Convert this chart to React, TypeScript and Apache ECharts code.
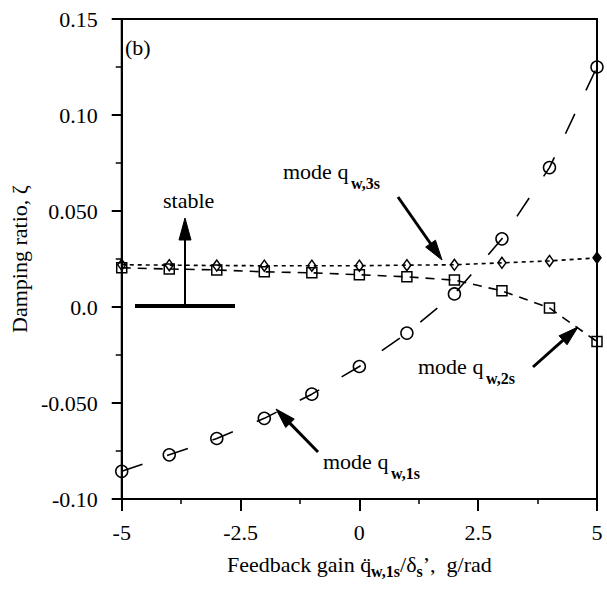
import React, { useEffect, useRef } from "react";
import * as echarts from "echarts";

const xValues = [-5, -4, -3, -2, -1, 0, 1, 2, 3, 4, 5];
const mode1s = [-0.0856, -0.077, -0.0685, -0.058, -0.0454, -0.031, -0.0136, 0.0068, 0.0355, 0.0726, 0.125];
const mode2s = [0.0204, 0.0198, 0.0193, 0.0183, 0.0178, 0.0168, 0.0157, 0.014, 0.0084, -0.0005, -0.018];
const mode3s = [0.022, 0.0218, 0.0216, 0.0215, 0.0215, 0.0215, 0.0218, 0.022, 0.023, 0.024, 0.0256];
const xTickLabels = ["-5", "-2.5", "0", "2.5", "5"];
const yTickLabels = ["-0.10", "-0.050", "0.0", "0.050", "0.10", "0.15"];

const FONT = "'Liberation Serif', 'DejaVu Serif', serif";

function arrow(x1: number, y1: number, tx: number, ty: number, head = 20, half = 6, w = 3) {
  const dx = tx - x1, dy = ty - y1;
  const len = Math.sqrt(dx * dx + dy * dy);
  const ux = dx / len, uy = dy / len;
  const bx = tx - head * ux, by = ty - head * uy;
  const px = -uy * half, py = ux * half;
  return [
    { type: "line", shape: { x1, y1, x2: bx + ux * 2, y2: by + uy * 2 }, style: { stroke: "#000", lineWidth: w } },
    {
      type: "polygon",
      shape: { points: [[tx, ty], [bx + px, by + py], [bx - px, by - py]] },
      style: { fill: "#000", stroke: "#000", lineWidth: 1 },
    },
  ];
}

function label(x: number, y: number, main: string, sub: string, subDx: number) {
  return [
    { type: "text", x, y, style: { text: main, font: `22px ${FONT}`, fill: "#000", verticalAlign: "middle", align: "left" } },
    { type: "text", x: x + subDx, y: y + 12, style: { text: sub, font: `bold 16px ${FONT}`, fill: "#000", verticalAlign: "middle", align: "left" } },
  ];
}

export default function App() {
  const ref = useRef<HTMLDivElement>(null);
  useEffect(() => {
    if (!ref.current) return;
    const chart = echarts.init(ref.current, undefined, { renderer: "svg" });
    const pts = (arr: number[]) => xValues.map((x, i) => [x, arr[i]]);
    const m3 = pts(mode3s).map((p, i) =>
      i === mode3s.length - 1 ? { value: p, itemStyle: { color: "#000" } } : p
    );
    const axisText = { fontFamily: FONT, fontSize: 22, color: "#000" };
    chart.setOption({
      animation: false,
      backgroundColor: "#fff",
      grid: { left: 113, right: 10, top: 19, bottom: 94, show: true, borderColor: "#000", borderWidth: 2, backgroundColor: "transparent" },
      xAxis: {
        type: "value",
        min: -5,
        max: 5,
        interval: 2.5,
        axisLine: { onZero: false, lineStyle: { color: "#000", width: 2 } },
        axisTick: { length: 12, lineStyle: { color: "#000", width: 2 } },
        minorTick: { show: true, splitNumber: 2, length: 5, lineStyle: { color: "#000", width: 1.5 } },
        splitLine: { show: false },
        axisLabel: {
          ...axisText,
          margin: 22,
          formatter: (v: number) => xTickLabels[Math.round((v + 5) / 2.5)] ?? "",
        },
        name: "{a|Feedback gain q\u0308}{s|w,1s}{a|/\u03b4}{s|s}{a|\u2019,  g/rad}",
        nameLocation: "middle",
        nameGap: 52,
        nameTextStyle: {
          rich: {
            a: { fontFamily: FONT, fontSize: 22, color: "#000", verticalAlign: "top", lineHeight: 26 },
            s: { fontFamily: FONT, fontSize: 16, fontWeight: "bold", color: "#000", verticalAlign: "bottom", lineHeight: 16, padding: [16, 0, 0, 0] },
          },
        },
      },
      yAxis: {
        type: "value",
        min: -0.1,
        max: 0.15,
        interval: 0.05,
        axisLine: { onZero: false, lineStyle: { color: "#000", width: 2 } },
        axisTick: { length: 10, lineStyle: { color: "#000", width: 2 } },
        minorTick: { show: true, splitNumber: 2, length: 6, lineStyle: { color: "#000", width: 1.5 } },
        splitLine: { show: false },
        axisLabel: {
          ...axisText,
          margin: 24,
          formatter: (v: number) => yTickLabels[Math.round((v + 0.1) / 0.05)] ?? "",
        },
        name: "Damping ratio, \u03b6",
        nameLocation: "middle",
        nameGap: 78,
        nameTextStyle: { ...axisText },
      },
      series: [
        {
          type: "line",
          data: pts(mode1s),
          symbol: "circle",
          symbolSize: 12,
          itemStyle: { color: "rgba(0,0,0,0)", borderColor: "#000", borderWidth: 1.5 },
          lineStyle: { color: "#000", width: 1.6, type: [22, 26] },
          z: 3,
        },
        {
          type: "line",
          data: pts(mode2s),
          symbol: "rect",
          symbolSize: 10,
          itemStyle: { color: "rgba(0,0,0,0)", borderColor: "#000", borderWidth: 1.5 },
          lineStyle: { color: "#000", width: 1.6, type: [9, 7] },
          z: 2,
        },
        {
          type: "line",
          data: m3,
          symbol: "diamond",
          symbolSize: [8, 11],
          itemStyle: { color: "rgba(0,0,0,0)", borderColor: "#000", borderWidth: 1.5 },
          lineStyle: { color: "#000", width: 1.6, type: [4, 4] },
          z: 4,
        },
      ],
      graphic: [
        { type: "text", x: 125, y: 47, style: { text: "(b)", font: `22px ${FONT}`, fill: "#000", verticalAlign: "middle" } },
        { type: "text", x: 163, y: 200, style: { text: "stable", font: `22px ${FONT}`, fill: "#000", verticalAlign: "middle" } },
        { type: "line", shape: { x1: 135, y1: 306, x2: 235, y2: 306 }, style: { stroke: "#000", lineWidth: 4 } },
        ...arrow(185, 306, 185, 218, 22, 6, 2),
        ...label(283, 171, "mode q", "w,3s", 68),
        ...arrow(398, 197, 442, 260),
        ...label(418, 366, "mode q", "w,2s", 68),
        ...arrow(533, 367, 578, 327),
        ...label(323, 461, "mode q", "w,1s", 68),
        ...arrow(318, 452, 276, 409),
      ],
    });
    return () => chart.dispose();
  }, []);
  return <div ref={ref} style={{ position: "fixed", left: 0, top: 0, width: 607, height: 593 }} />;
}
